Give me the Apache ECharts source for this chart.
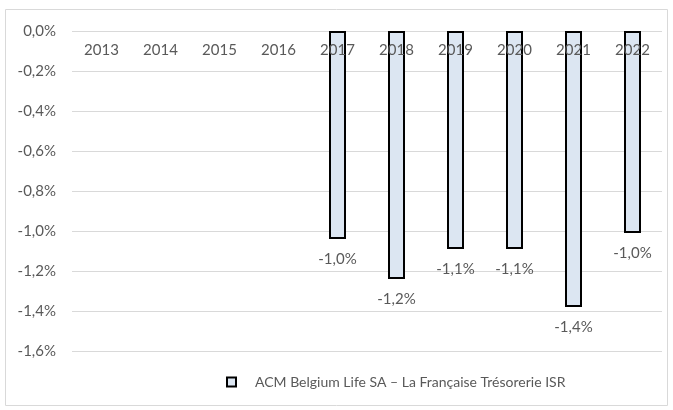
<!DOCTYPE html>
<html>
<head>
<meta charset="utf-8">
<script src="https://cdn.jsdelivr.net/npm/echarts@6/dist/echarts.min.js"></script>
<style>
  html, body { margin: 0; padding: 0; background: #fff; }
  #chart { width: 673px; height: 410px; }
</style>
</head>
<body>
<div id="chart"></div>
<script>
// data (returns in %)
const years = ['2013', '2014', '2015', '2016', '2017', '2018', '2019', '2020', '2021', '2022']
const returns = [null, null, null, null, -1.04, -1.24, -1.09, -1.09, -1.38, -1.01]
const seriesName = 'ACM Belgium Life SA – La Française Trésorerie ISR'

const fmt = v => v.toFixed(1).replace('.', ',') + '%'
const textColor = '#595959'
const font = 'Lato'

const chart = echarts.init(document.getElementById('chart'))
chart.setOption({
  animation: false,
  textStyle: { fontFamily: font },
  graphic: [{
    type: 'rect',
    shape: { x: 5.5, y: 9.5, width: 662, height: 396 },
    style: { fill: 'none', stroke: '#d9d9d9', lineWidth: 1 },
    silent: true
  }],
  grid: { left: 72, right: 11, top: 31, bottom: 59 },
  legend: {
    bottom: 16,
    left: 221,
    itemWidth: 9,
    itemHeight: 9,
    icon: 'rect',
    itemStyle: { borderWidth: 2, borderColor: '#000', color: '#dce6f2' },
    textStyle: { color: textColor, fontSize: 14, fontFamily: font, padding: [0, 0, 0, 14] },
    data: [seriesName]
  },
  xAxis: {
    type: 'category',
    position: 'top',
    data: years,
    z: 10,
    axisLine: { show: false },
    axisTick: { show: false },
    axisLabel: { inside: true, margin: 12, color: textColor, fontSize: 15, fontFamily: font }
  },
  yAxis: {
    type: 'value',
    min: -1.6,
    max: 0,
    interval: 0.2,
    axisLine: { show: false },
    axisTick: { show: false },
    splitLine: { lineStyle: { color: '#d9d9d9', width: 1 } },
    axisLabel: { color: textColor, fontSize: 15, fontFamily: font, margin: 16, formatter: fmt }
  },
  series: [{
    name: seriesName,
    type: 'bar',
    data: returns,
    barWidth: 17,
    z: 5,
    itemStyle: { color: '#dce6f2', borderColor: '#000', borderWidth: 2 },
    label: {
      show: true,
      position: 'bottom',
      distance: 13,
      color: textColor,
      fontSize: 15,
      fontFamily: font,
      formatter: p => fmt(p.value)
    }
  }]
})
</script>
</body>
</html>
